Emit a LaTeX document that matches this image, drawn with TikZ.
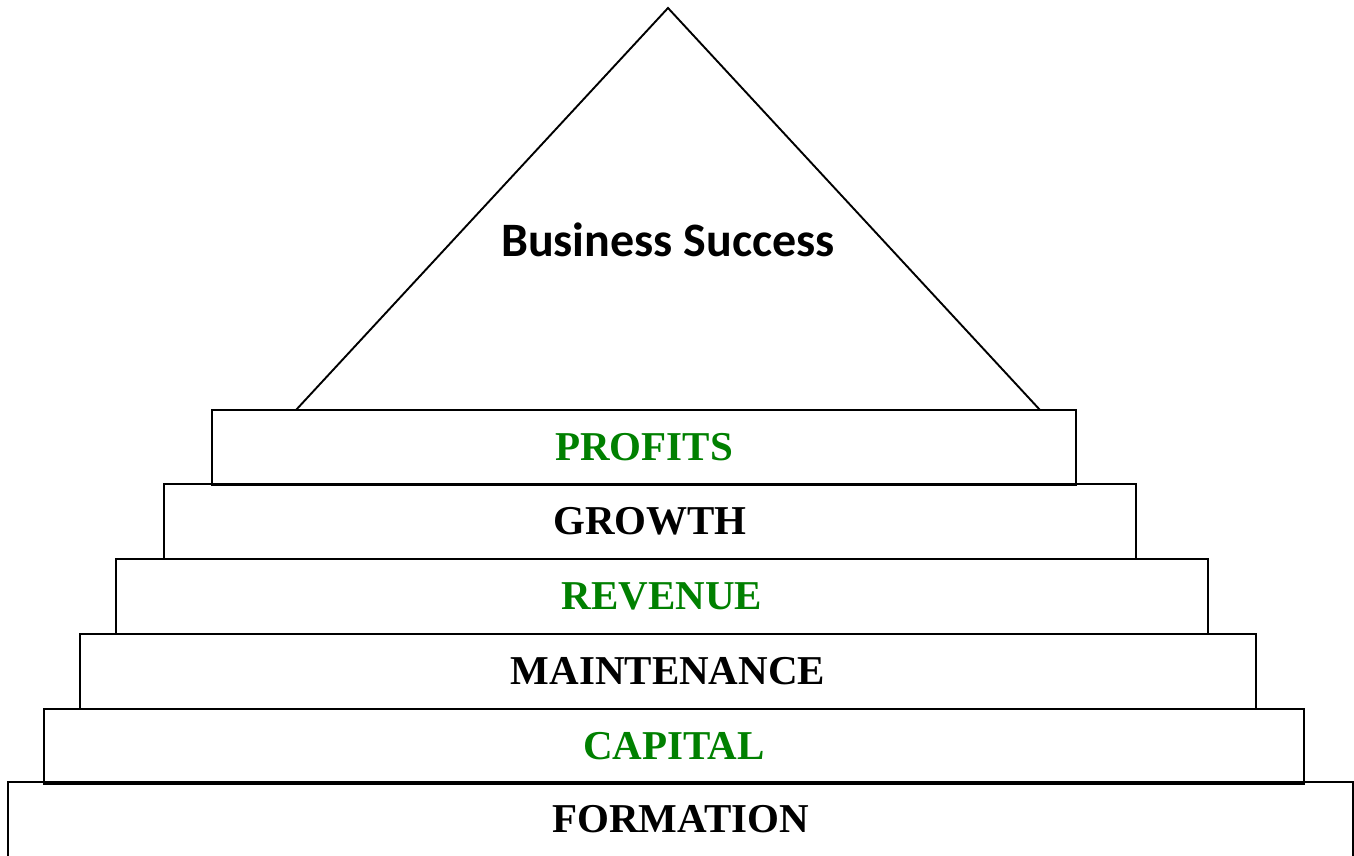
\documentclass[tikz,border=0pt]{standalone}
\usepackage{fontspec}
\setmainfont{Liberation Serif}
\newfontfamily\headfont{Carlito}
\definecolor{stepgreen}{RGB}{0,128,0}
\begin{document}
\begin{tikzpicture}[x=1pt,y=1pt,
  layer/.style={draw=black,line width=2.4pt,rectangle,inner sep=0pt,
    minimum height=75pt,font=\bfseries\fontsize{41}{41}\selectfont},
  greentext/.style={text=stepgreen},
  peak/.style={draw=black,line width=1.9pt,line join=miter}]
\useasboundingbox (0,0) rectangle (1354,855);
% stacked layers, widest at the bottom
\node[layer,minimum width=1345pt] (formation) at (680.5,35.5) {FORMATION};
\node[layer,greentext,minimum width=1260pt] (capital) at (674,108.5) {CAPITAL};
\node[layer,minimum width=1176pt] (maintenance) at (668,183.5) {MAINTENANCE};
\node[layer,greentext,minimum width=1092pt] (revenue) at (662,258.5) {REVENUE};
\node[layer,minimum width=972pt] (growth) at (650,333.5) {GROWTH};
\node[layer,greentext,minimum width=864pt] (profits) at (644,407.5) {PROFITS};
% roof triangle standing on the top layer
\coordinate (apex) at (668,847);
\coordinate (baseL) at (296,445);
\coordinate (baseR) at (1040,445);
\draw[peak] (baseL) -- (apex) -- (baseR);
\node[font=\headfont\bfseries\fontsize{48}{48}\selectfont] (success) at (668,615) {Business Success};
\end{tikzpicture}
\end{document}
